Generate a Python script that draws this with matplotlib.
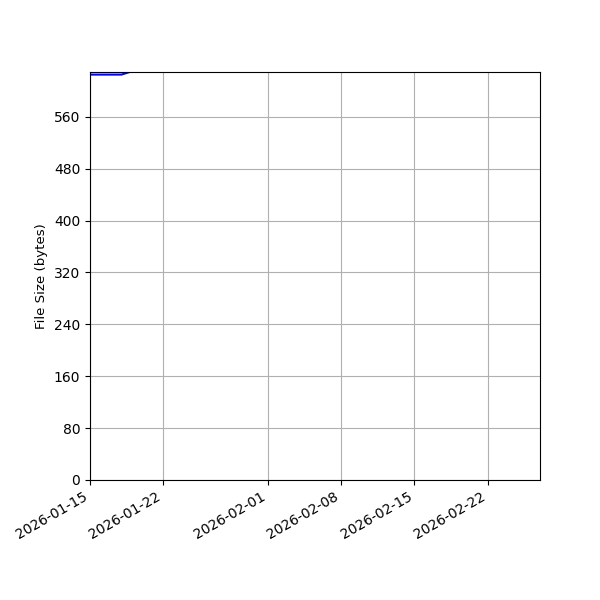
import numpy as np
import pandas as pd
import matplotlib
matplotlib.use("Agg")
import matplotlib.pyplot as plt
import matplotlib.dates as mdates

# daily file size samples (bytes)
dates = pd.to_datetime(["2026-01-15", "2026-01-16", "2026-01-17", "2026-01-18",
                        "2026-01-19", "2026-01-20", "2026-01-22", "2026-02-01",
                        "2026-02-08", "2026-02-15", "2026-02-22", "2026-02-27"])
sizes = [625, 625, 625, 625, 630, 640, 660, 720, 780, 840, 900, 950]

fig, ax = plt.subplots(figsize=(6, 6), dpi=100)
ax.plot(dates, sizes, color="blue")

ax.set_ylabel("File Size (bytes)", fontsize=9.6)
ax.set_xlim(pd.Timestamp("2026-01-15"), pd.Timestamp("2026-02-27"))
ax.set_ylim(0, 629)
ax.yaxis.set_major_locator(plt.MaxNLocator(integer=True))
ax.xaxis.set_major_locator(mdates.DayLocator(bymonthday=[1, 8, 15, 22]))
ax.xaxis.set_major_formatter(mdates.DateFormatter("%Y-%m-%d"))
ax.grid(True)

fig.autofmt_xdate()
fig.subplots_adjust(left=0.15, right=0.9, top=0.88, bottom=0.2)
fig.savefig("out.png")
